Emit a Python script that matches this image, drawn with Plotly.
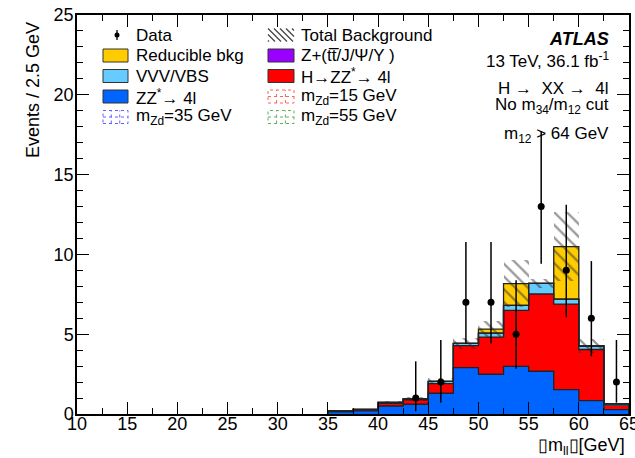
import numpy as np
import plotly.graph_objects as go

# ---------------- data ----------------
bin_edges = [35.0, 37.5, 40.0, 42.5, 45.0, 47.5, 50.0, 52.5, 55.0, 57.5, 60.0, 62.5, 65.0]
zz_4l = [0.13, 0.19, 0.50, 0.61, 1.30, 2.91, 2.49, 2.99, 2.68, 1.53, 0.84, 0.27]
h_zz_4l = [0.05, 0.07, 0.17, 0.27, 0.60, 1.38, 2.33, 3.50, 4.84, 5.36, 3.20, 0.28]
vvv_vbs = [0.02, 0.03, 0.06, 0.06, 0.15, 0.13, 0.25, 0.31, 0.67, 0.31, 0.22, 0.08]
z_ttbar = [0.0, 0.0, 0.0, 0.0, 0.0, 0.0, 0.0, 0.0, 0.0, 0.0, 0.0, 0.0]
reducible = [0.0, 0.0, 0.0, 0.0, 0.0, 0.0, 0.25, 1.37, 0.0, 3.29, 0.0, 0.0]
bkg_unc = [0.04, 0.05, 0.10, 0.12, 0.20, 0.33, 0.48, 1.46, 0.30, 2.16, 0.43, 0.08]

data_x = [43.75, 46.25, 48.75, 51.25, 53.75, 56.25, 58.75, 61.25, 63.75]
data_n = [1, 2, 7, 7, 5, 13, 9, 6, 2]
data_err_up = [2.30, 2.64, 3.77, 3.77, 3.38, 4.73, 4.11, 3.58, 2.64]
data_err_dn = [0.83, 1.29, 2.58, 2.58, 2.16, 3.58, 2.94, 2.38, 1.29]

x_ticks = [10, 15, 20, 25, 30, 35, 40, 45, 50, 55, 60, 65]
y_ticks = [0, 5, 10, 15, 20, 25]

# ---------------- styling ----------------
FONT = "Liberation Sans"
C_ZZ = "#0064ff"
C_H = "#ff0000"
C_VVV = "#66ccff"
C_ZTT = "#9900ff"
C_RED = "#ffcc00"
OUTLINE = "#222222"

edges = np.array(bin_edges)
centers = 0.5 * (edges[:-1] + edges[1:])
widths = np.diff(edges)

components = [
    ("ZZ*→4l", np.array(zz_4l), C_ZZ),
    ("H→ZZ*→4l", np.array(h_zz_4l), C_H),
    ("VVV/VBS", np.array(vvv_vbs), C_VVV),
    ("Z+tt", np.array(z_ttbar), C_ZTT),
    ("Reducible bkg", np.array(reducible), C_RED),
]

fig = go.Figure()
base = np.zeros(len(centers))
tops = []
for name, vals, col in components:
    fig.add_trace(go.Bar(x=centers, y=vals, base=base, width=widths,
                         marker=dict(color=col, line=dict(width=0)),
                         showlegend=False, name=name))
    base = base + vals
    tops.append(base.copy())

# step outlines for each stacked level
for top in tops:
    xs = np.concatenate([[edges[0]], edges, [edges[-1]]])
    ys = np.concatenate([[0.0], top, [top[-1]], [0.0]])
    fig.add_trace(go.Scatter(x=xs, y=ys, mode="lines", line=dict(shape="hv", color=OUTLINE, width=1.3),
                             showlegend=False, hoverinfo="skip"))

total = tops[-1]
unc = np.array(bkg_unc)
fig.add_trace(go.Bar(x=centers, y=2 * unc, base=total - unc, width=widths,
                     marker=dict(color="rgba(0,0,0,0)", line=dict(width=0),
                                 pattern=dict(shape="\\", fgcolor="#2a2a2a", size=9, solidity=0.25,
                                              fillmode="overlay")),
                     showlegend=False, name="Total Background"))

fig.add_trace(go.Scatter(x=data_x, y=data_n, mode="markers",
                         marker=dict(color="black", size=7),
                         error_y=dict(type="data", symmetric=False, array=data_err_up,
                                      arrayminus=data_err_dn, width=0, thickness=1.5, color="black"),
                         showlegend=False, name="Data"))

# ---------------- layout ----------------
PL, PR, PT, PB = 77, 629, 15, 414
W, H = 635, 458


def px(x):
    return (x - PL) / (PR - PL)


def py(y):
    return (PB - y) / (PB - PT)


shapes = []
annotations = []

rows = [35, 55.5, 76, 96.5, 117]
LX0, LX1, LT = 103, 128, 134
RX0, RX1, RT = 268, 294, 299
HH = 6.5


def label(x, y, text, size=17):
    annotations.append(dict(x=px(x), y=py(y), xref="paper", yref="paper", text=text,
                            showarrow=False, xanchor="left", yanchor="middle",
                            font=dict(family=FONT, size=size, color="black")))


def box(x0, x1, y, color):
    shapes.append(dict(type="rect", xref="paper", yref="paper", x0=px(x0), x1=px(x1),
                       y0=py(y + HH), y1=py(y - HH), fillcolor=color,
                       line=dict(color="#333333", width=1)))


def dotted_box(x0, x1, y, color):
    shapes.append(dict(type="rect", xref="paper", yref="paper", x0=px(x0), x1=px(x1),
                       y0=py(y + HH), y1=py(y - HH), fillcolor="rgba(0,0,0,0)",
                       line=dict(color=color, width=1, dash="dot")))
    for xx in (x0 + (x1 - x0) * 0.33, x0 + (x1 - x0) * 0.67):
        shapes.append(dict(type="line", xref="paper", yref="paper", x0=px(xx), x1=px(xx),
                           y0=py(y + HH), y1=py(y - HH), line=dict(color=color, width=1, dash="dot")))
    shapes.append(dict(type="line", xref="paper", yref="paper", x0=px(x0), x1=px(x1),
                       y0=py(y), y1=py(y), line=dict(color=color, width=1, dash="dot")))


# Data entry
shapes.append(dict(type="line", xref="paper", yref="paper", x0=px(117), x1=px(117),
                   y0=py(rows[0] + 5), y1=py(rows[0] - 5), line=dict(color="black", width=1.3)))
shapes.append(dict(type="circle", xref="paper", yref="paper", x0=px(114.5), x1=px(119.5),
                   y0=py(rows[0] + 2.5), y1=py(rows[0] - 2.5), fillcolor="black", line=dict(width=0)))
label(LT, rows[0], "Data")

# Total background hatch entry
for k in range(-12, 26, 6):
    xa, ya = RX0 + k, rows[0] - HH
    xb, yb = xa + 2 * HH, rows[0] + HH
    if xa < RX0:
        ya += (RX0 - xa)
        xa = RX0
    if xb > RX1:
        yb -= (xb - RX1)
        xb = RX1
    if xb > xa:
        shapes.append(dict(type="line", xref="paper", yref="paper", x0=px(xa), x1=px(xb),
                           y0=py(ya), y1=py(yb), line=dict(color="#444444", width=1.2)))
label(RT, rows[0], "Total Background")

box(LX0, LX1, rows[1], C_RED)
label(LT, rows[1], "Reducible bkg")
box(RX0, RX1, rows[1], C_ZTT)
label(RT, rows[1], "Z+(tt\u0305/J/Ψ/Υ )")
box(LX0, LX1, rows[2], C_VVV)
label(LT, rows[2], "VVV/VBS")
box(RX0, RX1, rows[2], C_H)
label(RT, rows[2], "H→ZZ<sup>*</sup>→ 4l")
box(LX0, LX1, rows[3], C_ZZ)
label(LT, rows[3], "ZZ<sup>*</sup>→ 4l")
dotted_box(RX0, RX1, rows[3], "#ff6060")
label(RT, rows[3], "m<sub>Zd</sub>=15 GeV")
dotted_box(LX0, LX1, rows[4], "#6060ff")
label(LT, rows[4], "m<sub>Zd</sub>=35 GeV")
dotted_box(RX0, RX1, rows[4], "#60b060")
label(RT, rows[4], "m<sub>Zd</sub>=55 GeV")


def rlabel(y, text, size=17):
    annotations.append(dict(x=px(611), y=py(y), xref="paper", yref="paper", text=text,
                            showarrow=False, xanchor="right", yanchor="middle",
                            font=dict(family=FONT, size=size, color="black")))


rlabel(39, "<b><i>ATLAS</i></b>", size=18)
rlabel(60, "13 TeV, 36.1 fb<sup>-1</sup>")
rlabel(88, "H →  XX →  4l")
rlabel(106, "No m<sub>34</sub>/m<sub>12</sub> cut")
rlabel(135, "m<sub>12</sub> > 64 GeV")

# axis titles
annotations.append(dict(x=px(33), y=py(20), xref="paper", yref="paper", text="Events / 2.5 GeV",
                        textangle=-90, showarrow=False, xanchor="center", yanchor="top",
                        font=dict(family=FONT, size=18, color="black")))
annotations.append(dict(x=px(627), y=py(446), xref="paper", yref="paper",
                        text="\u25afm<sub>ll</sub>\u25af[GeV]",
                        showarrow=False, xanchor="right", yanchor="middle",
                        font=dict(family=FONT, size=18, color="black")))

fig.update_layout(
    width=W, height=H,
    margin=dict(l=PL, r=W - PR, t=PT, b=H - PB, autoexpand=False),
    paper_bgcolor="white", plot_bgcolor="white",
    barmode="overlay", bargap=0,
    showlegend=False,
    shapes=shapes, annotations=annotations,
    font=dict(family=FONT, size=18, color="black"),
)
fig.update_xaxes(range=[10, 65.0001], tickvals=x_ticks, ticks="inside", ticklen=12, tickwidth=1,
                 tickcolor="black", showline=True, linecolor="black", linewidth=1.5, mirror="ticks",
                 showgrid=False, zeroline=False, tickfont=dict(family=FONT, size=18, color="black"),
                 ticklabelstandoff=-7, ticklabeloverflow="allow", automargin=False,
                 minor=dict(dtick=2.5, tick0=10, ticks="inside", ticklen=6, tickcolor="black", showgrid=False))
fig.update_yaxes(range=[0, 25], tickvals=y_ticks, ticks="inside", ticklen=12, tickwidth=1,
                 tickcolor="black", showline=True, linecolor="black", linewidth=1.5, mirror="ticks",
                 showgrid=False, zeroline=False, tickfont=dict(family=FONT, size=18, color="black"),
                 ticklabelstandoff=-2, ticklabeloverflow="allow", automargin=False,
                 minor=dict(dtick=1, tick0=0, ticks="inside", ticklen=6, tickcolor="black", showgrid=False))

fig.write_html("out.html")
